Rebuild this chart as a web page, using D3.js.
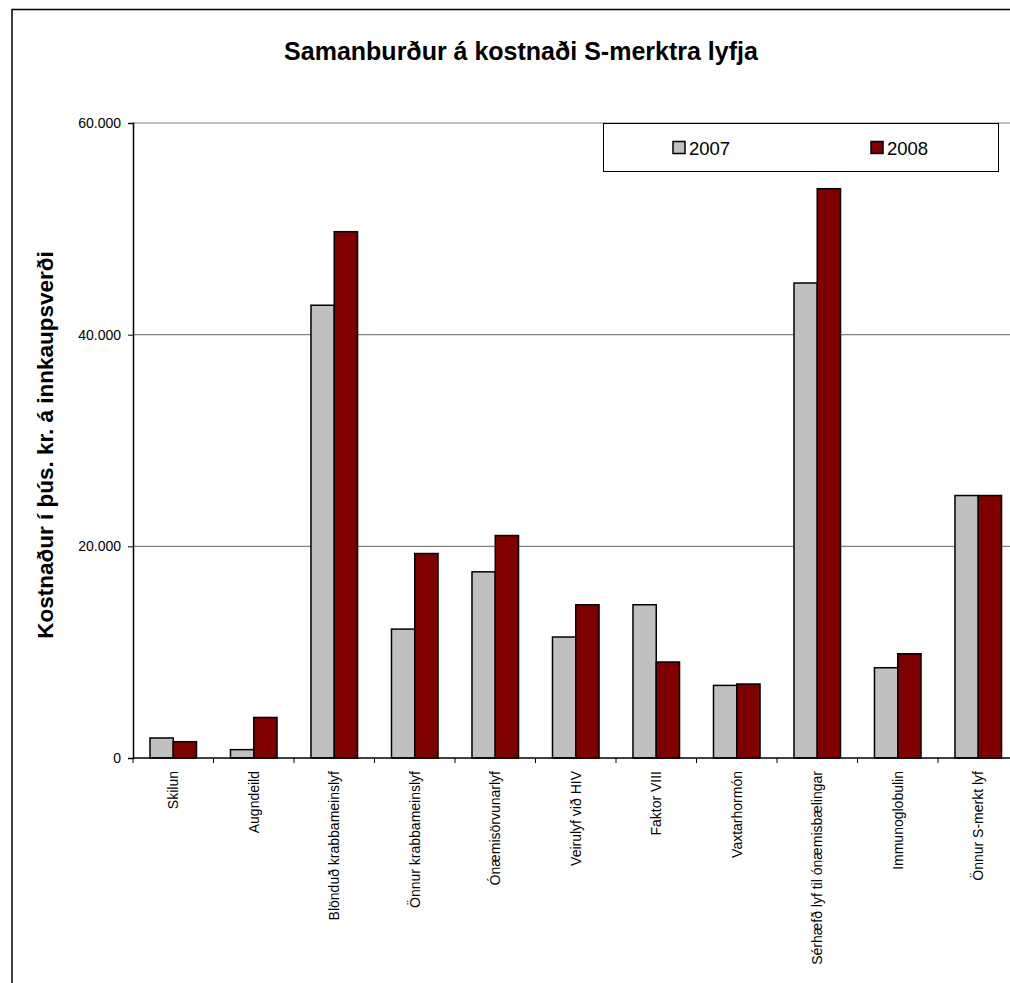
<!DOCTYPE html>
<html>
<head>
<meta charset="utf-8">
<script src="https://cdn.jsdelivr.net/npm/d3@7"></script>
<style>
  body { margin: 0; background: #fff; overflow: hidden; }
  svg { display: block; font-family: "Liberation Sans", Arial, sans-serif; }
</style>
</head>
<body>
<div id="chart"></div>
<script>
// categories and values (þús. kr.)
const categories = [
    "Skilun", "Augndeild", "Blönduð krabbameinslyf", "Önnur krabbameinslyf",
    "Ónæmisörvunarlyf", "Veirulyf við HIV", "Faktor VIII", "Vaxtarhormón",
    "Sérhæfð lyf til ónæmisbælingar", "Immunoglobulin", "Önnur S-merkt lyf"
];
const years = ["2007", "2008"];
const values2007 = [1890, 790, 42780, 12180, 17590, 11430, 14480, 6860, 44880, 8530, 24800];
const values2008 = [1540, 3830, 49730, 19320, 21020, 14480, 9070, 6990, 53790, 9850, 24800];
const yTicks = [0, 20000, 40000, 60000];
const colors = ["#C0C0C0", "#800000"];

const width = 1010, height = 983;
const plot = { left: 133, top: 123, right: 1018.5, bottom: 758 };

const svg = d3.select("#chart").append("svg")
    .attr("width", width)
    .attr("height", height);

// outer chart frame: only the left and top edges are in view
svg.append("path")
    .attr("d", `M12,${height + 10}V9.5H${width + 10}`)
    .attr("fill", "none")
    .attr("stroke", "#000")
    .attr("stroke-width", 1.5);

svg.append("text")
    .attr("x", 521).attr("y", 60)
    .attr("text-anchor", "middle")
    .style("font-size", "25px")
    .style("font-weight", "bold")
    .text("Samanburður á kostnaði S-merktra lyfja");

const y = d3.scaleLinear().domain([0, 60000]).range([plot.bottom, plot.top]);

const x0 = d3.scaleBand().domain(categories).range([plot.left, plot.right]);
const x1 = d3.scaleBand().domain(years).range([0, x0.bandwidth()])
    .paddingInner(0).paddingOuter(0.73);

// gridlines
svg.append("g")
    .selectAll("line")
    .data(yTicks.filter(d => d > 0))
    .enter()
    .append("line")
    .attr("x1", plot.left).attr("x2", plot.right)
    .attr("y1", d => y(d)).attr("y2", d => y(d))
    .attr("stroke", "#808080")
    .attr("stroke-width", 1.2);

// legend
const legend = svg.append("g");
legend.append("rect")
    .attr("x", 603.5).attr("y", 123.5)
    .attr("width", 395).attr("height", 48)
    .attr("fill", "#fff")
    .attr("stroke", "#000")
    .attr("stroke-width", 1);
const legendX = [673, 871];
years.forEach((yr, i) => {
    legend.append("rect")
        .attr("x", legendX[i]).attr("y", 141.5)
        .attr("width", 12).attr("height", 12)
        .attr("fill", colors[i])
        .attr("stroke", "#000")
        .attr("stroke-width", 1.5);
    legend.append("text")
        .attr("x", legendX[i] + 16).attr("y", 154.5)
        .style("font-size", "18.5px")
        .text(yr);
});

// bars
const rows = categories.map((c, i) => ({ cat: c, vals: [values2007[i], values2008[i]] }));
const groups = svg.append("g")
    .selectAll("g")
    .data(rows)
    .enter()
    .append("g")
    .attr("transform", d => `translate(${x0(d.cat)},0)`);

groups.selectAll("rect")
    .data(d => d.vals.map((v, i) => ({ year: years[i], value: v, i })))
    .enter()
    .append("rect")
    .attr("x", d => x1(d.year))
    .attr("width", x1.bandwidth())
    .attr("y", d => y(d.value))
    .attr("height", d => y(0) - y(d.value))
    .attr("fill", d => colors[d.i])
    .attr("stroke", "#000")
    .attr("stroke-width", 1.5);

// y axis
const yAxis = svg.append("g")
    .attr("transform", `translate(${plot.left},0)`)
    .call(d3.axisLeft(y)
        .tickValues(yTicks)
        .tickSize(5)
        .tickFormat(d => d3.format(",")(d).replace(/,/g, ".")));
yAxis.select(".domain").attr("stroke", "#000").attr("stroke-width", 1.5);
yAxis.selectAll(".tick line").attr("stroke", "#000");
yAxis.selectAll("text")
    .attr("x", -12)
    .style("font-size", "14px")
    .style("font-family", "'Liberation Sans', Arial, sans-serif")
    .attr("fill", "#000");

// x axis: ticks at category boundaries
const xAxis = svg.append("g");
xAxis.append("line")
    .attr("x1", plot.left).attr("x2", plot.right)
    .attr("y1", plot.bottom).attr("y2", plot.bottom)
    .attr("stroke", "#000")
    .attr("stroke-width", 1.5);
xAxis.selectAll(".sep")
    .data(categories)
    .enter()
    .append("line")
    .attr("x1", d => x0(d)).attr("x2", d => x0(d))
    .attr("y1", plot.bottom).attr("y2", plot.bottom + 5)
    .attr("stroke", "#000");
xAxis.selectAll(".lbl")
    .data(categories)
    .enter()
    .append("text")
    .attr("transform", d => `translate(${x0(d) + x0.bandwidth() / 2 + 5},${plot.bottom + 13}) rotate(-90)`)
    .attr("text-anchor", "end")
    .style("font-size", "14px")
    .text(d => d);

// y axis title
svg.append("text")
    .attr("transform", "translate(53,445) rotate(-90)")
    .attr("text-anchor", "middle")
    .style("font-size", "22.5px")
    .style("font-weight", "bold")
    .text("Kostnaður í þús. kr. á innkaupsverði");
</script>
</body>
</html>
